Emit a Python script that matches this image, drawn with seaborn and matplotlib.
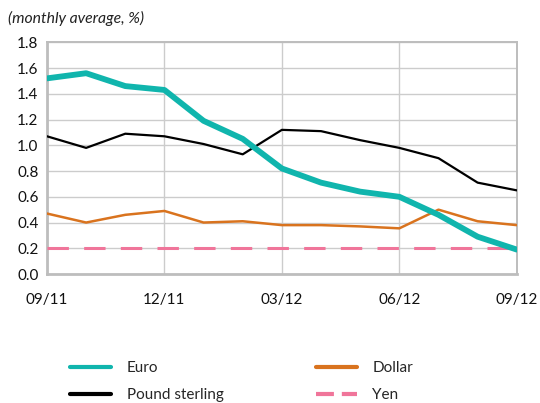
import matplotlib
matplotlib.use("Agg")
import matplotlib.pyplot as plt
from matplotlib.lines import Line2D
import seaborn as sns
import pandas as pd

months = ["09/11", "10/11", "11/11", "12/11", "01/12", "02/12", "03/12",
          "04/12", "05/12", "06/12", "07/12", "08/12", "09/12"]
euro = [1.52, 1.56, 1.46, 1.43, 1.19, 1.05, 0.82, 0.71, 0.64, 0.60, 0.46, 0.29, 0.19]
pound = [1.07, 0.98, 1.09, 1.07, 1.01, 0.93, 1.12, 1.11, 1.04, 0.98, 0.90, 0.71, 0.65]
dollar = [0.47, 0.40, 0.46, 0.49, 0.40, 0.41, 0.38, 0.38, 0.37, 0.355, 0.50, 0.41, 0.38]
yen = [0.20] * 13
tick_labels = ["09/11", "12/11", "03/12", "06/12", "09/12"]

EURO_C, POUND_C, DOLLAR_C, YEN_C = "#10b5ad", "#000000", "#d9731e", "#f0759a"

sns.set_theme(style="white")
plt.rcParams["font.family"] = ["Lato", "DejaVu Sans"]

fig = plt.figure(figsize=(5.4, 4.03), dpi=100)
ax = fig.add_axes([0.087, 0.32, 0.87, 0.575])

x = list(range(len(months)))
df = pd.DataFrame({"x": x, "Euro": euro, "Pound sterling": pound,
                   "Dollar": dollar, "Yen": yen})

sns.lineplot(data=df, x="x", y="Euro", ax=ax, color=EURO_C, lw=4.2, zorder=4)
sns.lineplot(data=df, x="x", y="Pound sterling", ax=ax, color=POUND_C, lw=1.6, zorder=3)
sns.lineplot(data=df, x="x", y="Dollar", ax=ax, color=DOLLAR_C, lw=1.8, zorder=3)
sns.lineplot(data=df, x="x", y="Yen", ax=ax, color=YEN_C, lw=2.2, zorder=3)
ax.lines[-1].set_dashes([7, 5])

ax.set_xlim(0, 12)
ax.set_ylim(0, 1.8)
ax.set_yticks([i * 0.2 for i in range(10)])
ax.set_yticklabels([f"{i * 0.2:.1f}" for i in range(10)])
ax.set_xticks([0, 3, 6, 9, 12])
ax.set_xticklabels(tick_labels)
ax.set_xlabel("")
ax.set_ylabel("")

ax.grid(True, color="#cccccc", lw=1.0)
ax.set_axisbelow(True)
for side, sp in ax.spines.items():
    sp.set_visible(True)
    sp.set_color("#bdbdbd")
    sp.set_linewidth(2.0 if side in ("left", "bottom") else 1.4)

ax.tick_params(axis="both", length=0, labelsize=11, colors="#111111")
ax.tick_params(axis="x", pad=14)
ax.tick_params(axis="y", pad=6)

fig.text(0.015, 0.955, "(monthly average, %)", fontsize=11.3, style="italic",
         color="#222222", va="center")

# Legend in two columns, each placed separately
def legend_col(items, xpos):
    hs = [Line2D([], [], color=c, lw=3.0, ls=ls) for c, ls, _ in items]
    ls_ = [lab for _, _, lab in items]
    lg = fig.legend(hs, ls_, loc="upper left", bbox_to_anchor=(xpos, 0.104),
                    frameon=False, fontsize=11, handlelength=2.7,
                    handletextpad=1.0, labelspacing=0.85, borderpad=0,
                    borderaxespad=0)
    return lg

legend_col([(EURO_C, "-", "Euro"), (POUND_C, "-", "Pound sterling")], 0.13)
legend_col([(DOLLAR_C, "-", "Dollar"), (YEN_C, (0, (4.3, 1.9)), "Yen")], 0.585)

fig.savefig("out.png", dpi=100)
